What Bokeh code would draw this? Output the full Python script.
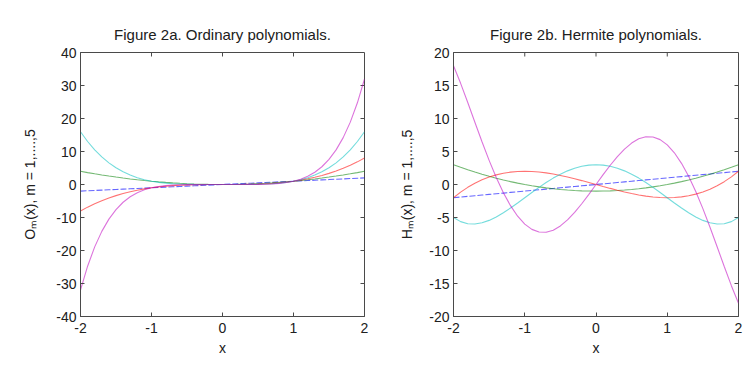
from math import pi
from bokeh.plotting import figure
from bokeh.layouts import row
from bokeh.models import Range1d, FixedTicker
from bokeh.embed import file_html
from bokeh.resources import INLINE

# ---- data ----
x = [-2.0, -1.9, -1.8, -1.7, -1.6, -1.5, -1.4, -1.3, -1.2, -1.1, -1.0,
     -0.9, -0.8, -0.7, -0.6, -0.5, -0.4, -0.3, -0.2, -0.1, 0.0,
     0.1, 0.2, 0.3, 0.4, 0.5, 0.6, 0.7, 0.8, 0.9, 1.0,
     1.1, 1.2, 1.3, 1.4, 1.5, 1.6, 1.7, 1.8, 1.9, 2.0]

o1 = [-2.0, -1.9, -1.8, -1.7, -1.6, -1.5, -1.4, -1.3, -1.2, -1.1, -1.0,
      -0.9, -0.8, -0.7, -0.6, -0.5, -0.4, -0.3, -0.2, -0.1, 0.0,
      0.1, 0.2, 0.3, 0.4, 0.5, 0.6, 0.7, 0.8, 0.9, 1.0,
      1.1, 1.2, 1.3, 1.4, 1.5, 1.6, 1.7, 1.8, 1.9, 2.0]
o2 = [4.0, 3.61, 3.24, 2.89, 2.56, 2.25, 1.96, 1.69, 1.44, 1.21, 1.0,
      0.81, 0.64, 0.49, 0.36, 0.25, 0.16, 0.09, 0.04, 0.01, 0.0,
      0.01, 0.04, 0.09, 0.16, 0.25, 0.36, 0.49, 0.64, 0.81, 1.0,
      1.21, 1.44, 1.69, 1.96, 2.25, 2.56, 2.89, 3.24, 3.61, 4.0]
o3 = [-8.0, -6.859, -5.832, -4.913, -4.096, -3.375, -2.744, -2.197, -1.728, -1.331, -1.0,
      -0.729, -0.512, -0.343, -0.216, -0.125, -0.064, -0.027, -0.008, -0.001, 0.0,
      0.001, 0.008, 0.027, 0.064, 0.125, 0.216, 0.343, 0.512, 0.729, 1.0,
      1.331, 1.728, 2.197, 2.744, 3.375, 4.096, 4.913, 5.832, 6.859, 8.0]
o4 = [16.0, 13.032, 10.498, 8.352, 6.554, 5.063, 3.842, 2.856, 2.074, 1.464, 1.0,
      0.656, 0.41, 0.24, 0.13, 0.063, 0.026, 0.008, 0.002, 0.0, 0.0,
      0.0, 0.002, 0.008, 0.026, 0.063, 0.13, 0.24, 0.41, 0.656, 1.0,
      1.464, 2.074, 2.856, 3.842, 5.063, 6.554, 8.352, 10.498, 13.032, 16.0]
o5 = [-32.0, -24.761, -18.896, -14.199, -10.486, -7.594, -5.378, -3.713, -2.488, -1.611, -1.0,
      -0.59, -0.328, -0.168, -0.078, -0.031, -0.01, -0.002, 0.0, 0.0, 0.0,
      0.0, 0.0, 0.002, 0.01, 0.031, 0.078, 0.168, 0.328, 0.59, 1.0,
      1.611, 2.488, 3.713, 5.378, 7.594, 10.486, 14.199, 18.896, 24.761, 32.0]

h1 = [-2.0, -1.9, -1.8, -1.7, -1.6, -1.5, -1.4, -1.3, -1.2, -1.1, -1.0,
      -0.9, -0.8, -0.7, -0.6, -0.5, -0.4, -0.3, -0.2, -0.1, 0.0,
      0.1, 0.2, 0.3, 0.4, 0.5, 0.6, 0.7, 0.8, 0.9, 1.0,
      1.1, 1.2, 1.3, 1.4, 1.5, 1.6, 1.7, 1.8, 1.9, 2.0]
h2 = [3.0, 2.61, 2.24, 1.89, 1.56, 1.25, 0.96, 0.69, 0.44, 0.21, 0.0,
      -0.19, -0.36, -0.51, -0.64, -0.75, -0.84, -0.91, -0.96, -0.99, -1.0,
      -0.99, -0.96, -0.91, -0.84, -0.75, -0.64, -0.51, -0.36, -0.19, 0.0,
      0.21, 0.44, 0.69, 0.96, 1.25, 1.56, 1.89, 2.24, 2.61, 3.0]
h3 = [-2.0, -1.159, -0.432, 0.187, 0.704, 1.125, 1.456, 1.703, 1.872, 1.969, 2.0,
      1.971, 1.888, 1.757, 1.584, 1.375, 1.136, 0.873, 0.592, 0.299, 0.0,
      -0.299, -0.592, -0.873, -1.136, -1.375, -1.584, -1.757, -1.888, -1.971, -2.0,
      -1.969, -1.872, -1.703, -1.456, -1.125, -0.704, -0.187, 0.432, 1.159, 2.0]
h4 = [-5.0, -5.628, -5.942, -5.988, -5.806, -5.438, -4.918, -4.284, -3.566, -2.796, -2.0,
      -1.204, -0.43, 0.3, 0.97, 1.563, 2.066, 2.468, 2.762, 2.94, 3.0,
      2.94, 2.762, 2.468, 2.066, 1.563, 0.97, 0.3, -0.43, -1.204, -2.0,
      -2.796, -3.566, -4.284, -4.918, -5.438, -5.806, -5.988, -5.942, -5.628, -5.0]
h5 = [18.0, 15.329, 12.424, 9.431, 6.474, 3.656, 1.062, -1.243, -3.208, -4.801, -6.0,
      -6.8, -7.208, -7.238, -6.918, -6.281, -5.37, -4.232, -2.92, -1.49, 0.0,
      1.49, 2.92, 4.232, 5.37, 6.281, 6.918, 7.238, 7.208, 6.8, 6.0,
      4.801, 3.208, 1.243, -1.062, -3.656, -6.474, -9.431, -12.424, -15.329, -18.0]

x_ticks = [-2, -1, 0, 1, 2]
x_tick_labels = ["-2", "-1", "0", "1", "2"]
ya_ticks = [-40, -30, -20, -10, 0, 10, 20, 30, 40]
ya_tick_labels = ["-40", "-30", "-20", "-10", "0", "10", "20", "30", "40"]
yb_ticks = [-20, -15, -10, -5, 0, 5, 10, 15, 20]
yb_tick_labels = ["-20", "-15", "-10", "-5", "0", "5", "10", "15", "20"]

titles = ["Figure 2a. Ordinary polynomials.", "Figure 2b. Hermite polynomials."]
ylabels = ["O\u2098(x), m = 1,....,5", "H\u2098(x), m = 1,....,5"]
xlabel = "x"

colors = ["#0000ff", "#008000", "#ff0000", "#00bfbf", "#bf00bf"]
alphas = [0.6, 0.55, 0.55, 0.55, 0.55]

FONT = "Liberation Sans"
TXT = "#202020"
AX = "#4a4a4a"


def make(title, ylabel, series, yr, yt, ytl, width, left, right, ylab_standoff):
    p = figure(width=width, height=366, output_backend="svg", toolbar_location=None,
               x_range=Range1d(-2, 2), y_range=Range1d(*yr),
               min_border_left=left, min_border_right=right,
               min_border_top=52, min_border_bottom=50,
               background_fill_color="white", border_fill_color="white")
    p.grid.visible = False
    p.outline_line_color = AX
    p.title.text = title
    p.title.align = "center"
    p.title.vertical_align = "top"
    p.title.text_font = FONT
    p.title.text_font_size = "15px"
    p.title.text_font_style = "normal"
    p.title.text_color = TXT
    p.title.standoff = 16

    for ax, ticks, labels in ((p.xaxis[0], x_ticks, x_tick_labels), (p.yaxis[0], yt, ytl)):
        ax.ticker = FixedTicker(ticks=ticks)
        ax.major_label_overrides = {t: l for t, l in zip(ticks, labels)}
        ax.major_tick_in = 4
        ax.major_tick_out = 0
        ax.minor_tick_in = 0
        ax.minor_tick_out = 0
        ax.axis_line_color = AX
        ax.major_tick_line_color = AX
        ax.major_label_text_font = FONT
        ax.major_label_text_font_size = "14px"
        ax.major_label_text_color = TXT
        ax.axis_label_text_font = FONT
        ax.axis_label_text_font_size = "14px"
        ax.axis_label_text_font_style = "normal"
        ax.axis_label_text_color = TXT
    p.xaxis[0].axis_label = xlabel
    p.xaxis[0].major_label_standoff = 6
    p.xaxis[0].axis_label_standoff = 4
    p.yaxis[0].axis_label = ylabel
    p.yaxis[0].major_label_standoff = 4
    p.yaxis[0].axis_label_standoff = ylab_standoff

    # mirrored tick marks on the top and right edges (box on), clipped to the frame
    p.scatter(x=x_ticks[1:-1], y=[yr[1]] * (len(x_ticks) - 2), marker="dash",
              angle=pi / 2, size=8, line_color=AX, line_width=1)
    p.scatter(x=[x_ticks[-1]] * (len(yt) - 2), y=yt[1:-1], marker="dash",
              size=8, line_color=AX, line_width=1)

    for i, ys in enumerate(series):
        if i == 0:
            p.line(x, ys, line_color=colors[i], line_width=1.1, line_alpha=alphas[i],
                   line_dash="6 2")
        else:
            p.line(x, ys, line_color=colors[i], line_width=1.1, line_alpha=alphas[i])
    return p


p1 = make(titles[0], ylabels[0], [o1, o2, o3, o4, o5], (-40, 40),
          ya_ticks, ya_tick_labels, 378, 80, 14, 15)
p2 = make(titles[1], ylabels[1], [h1, h2, h3, h4, h5], (-20, 20),
          yb_ticks, yb_tick_labels, 370, 75, 10, 11)

layout = row(p1, p2)
open("out.html", "w").write(file_html(layout, INLINE))
